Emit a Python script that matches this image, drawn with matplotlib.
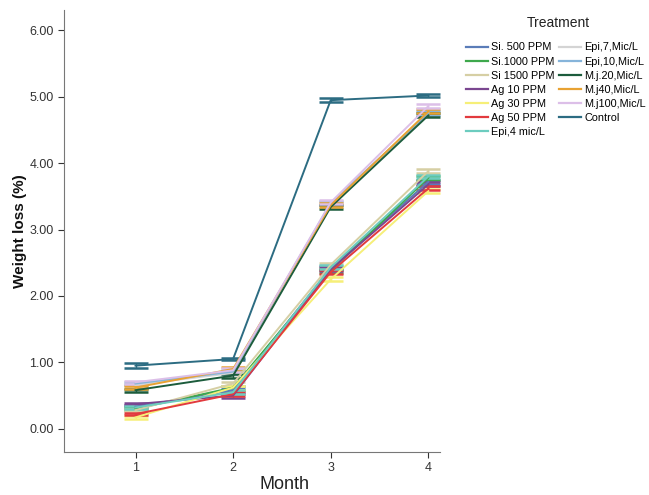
import matplotlib.pyplot as plt
from matplotlib.lines import Line2D

plt.rcParams['font.family'] = ['Liberation Sans', 'DejaVu Sans']

months = [1, 2, 3, 4]
treatments = ["Si. 500 PPM", "Si.1000 PPM", "Si 1500 PPM", "Ag 10 PPM", "Ag 30 PPM",
              "Ag 50 PPM", "Epi,4 mic/L", "Epi,7,Mic/L", "Epi,10,Mic/L", "M.j.20,Mic/L",
              "M.j40,Mic/L", "M.j100,Mic/L", "Control"]
colors = ["#5a7cb8", "#3ea84c", "#d6cfa4", "#7a4690", "#f6ef78", "#e23a3e", "#6cccbf",
          "#d4d4d4", "#86b4da", "#1c5c3c", "#e8a232", "#dcbfe8", "#2c6c82"]

# mean weight loss per month
si500 = [0.33, 0.58, 2.42, 3.72]
si1000 = [0.30, 0.62, 2.38, 3.78]
si1500 = [0.28, 0.68, 2.47, 3.88]
ag10 = [0.37, 0.50, 2.40, 3.68]
ag30 = [0.17, 0.62, 2.25, 3.58]
ag50 = [0.22, 0.52, 2.36, 3.62]
epi4 = [0.32, 0.55, 2.43, 3.80]
epi7 = [0.66, 0.84, 3.38, 4.76]
epi10 = [0.68, 0.86, 3.40, 4.75]
mj20 = [0.58, 0.80, 3.34, 4.72]
mj40 = [0.62, 0.90, 3.37, 4.78]
mj100 = [0.70, 0.88, 3.41, 4.86]
control = [0.95, 1.05, 4.95, 5.02]
# standard errors
err_small = [0.02, 0.03, 0.03, 0.03]
err_control = [0.04, 0.02, 0.03, 0.02]

series = [si500, si1000, si1500, ag10, ag30, ag50, epi4, epi7, epi10, mj20, mj40, mj100, control]
errors = [err_small] * 12 + [err_control]

fig = plt.figure(figsize=(6.49, 4.95), dpi=100)
ax = fig.add_axes([0.099, 0.087, 0.579, 0.893])

for name, vals, err, col in zip(treatments, series, errors, colors):
    ax.errorbar(months, vals, yerr=err, color=col, lw=1.4, capsize=8.5,
                capthick=1.8, elinewidth=1.0)

ax.set_xlim(0.27, 4.12)
ax.set_ylim(-0.35, 6.31)
ax.set_xticks(months)
ax.set_yticks([0, 1, 2, 3, 4, 5, 6])
ax.set_yticklabels(["0.00", "1.00", "2.00", "3.00", "4.00", "5.00", "6.00"])
ax.tick_params(axis='both', labelsize=9, colors='#333333', length=4)
for s in ['top', 'right']:
    ax.spines[s].set_visible(False)
for s in ['left', 'bottom']:
    ax.spines[s].set_color('#777777')

ax.set_xlabel("Month", fontsize=13, color='#222222')
ax.xaxis.set_label_coords(0.585, -0.055)
ax.set_ylabel("Weight loss (%)", fontsize=11, fontweight='bold', color='#111111')
ax.yaxis.set_label_coords(-0.098, 0.5)

# legend title drawn separately to get the wider gap above the entries
fig.text(0.86, 0.953, "Treatment", fontsize=10, color='#222222', ha='center', va='center')
handles = [Line2D([0], [0], color=c, lw=1.6) for c in colors]
fig.legend(handles, treatments, loc='upper left', bbox_to_anchor=(0.703, 0.934), ncol=2,
           fontsize=7.8, frameon=False,
           handlelength=2.0, handletextpad=0.3, columnspacing=0.45, labelspacing=0.38)

plt.savefig('out.png', dpi=100)
